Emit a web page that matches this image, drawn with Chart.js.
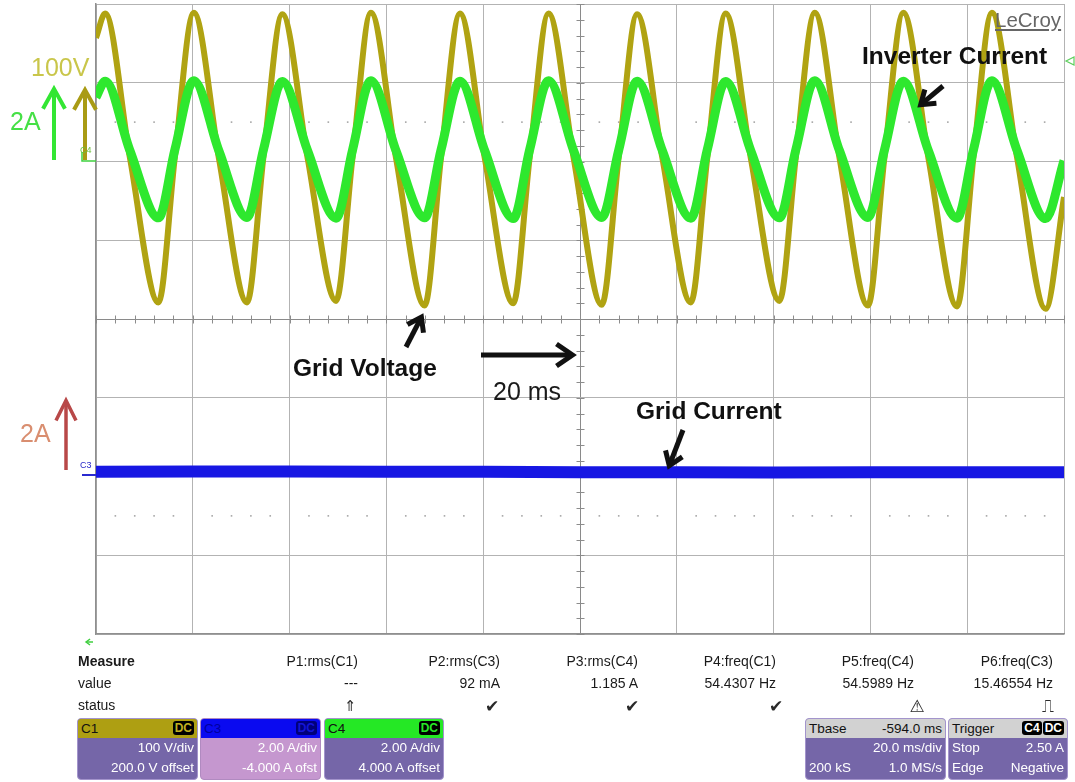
<!DOCTYPE html>
<html>
<head>
<meta charset="utf-8">
<title>Grid-tied inverter waveforms</title>
<script src="https://cdn.jsdelivr.net/npm/chart.js@4.4.1/dist/chart.umd.min.js"></script>
<style>
  html, body { margin:0; padding:0; background:#fff; }
  #scope { position:relative; width:1075px; height:782px; overflow:hidden;
           font-family:"Liberation Sans", Arial, sans-serif; }
  #scope canvas { position:absolute; left:0; top:0; }
  .lbl { position:absolute; white-space:nowrap; line-height:1; }
  .box { position:absolute; top:718px; height:62px; box-sizing:border-box;
         border:1px solid #a394cc; border-radius:4px; overflow:hidden;
         background:#7566a8; color:#fff; font-size:13.5px; }
  .box .hd { position:relative; height:19px; line-height:19px; padding:0 3px; color:#111; }
  .box .hd .r { position:absolute; right:3px; top:0; }
  .badge { display:inline-block; height:14px; line-height:14px; margin-top:2px; margin-left:1px;
           padding:0 2px; border-radius:3px; background:#000; font-weight:bold; font-size:12px; vertical-align:top; }
  .box .row { height:20px; line-height:20px; padding:0 3px; display:flex; justify-content:space-between; }
</style>
</head>
<body>
<div id="scope">
  <canvas id="chart" width="1075" height="782"></canvas>
  <div id="labels"></div>

  <div class="box" style="left:77px;width:121px;">
    <div class="hd" style="background:#ae9f12;">C1<span class="r"><span class="badge" style="color:#c0b020;">DC</span></span></div>
    <div class="row"><span></span><span>100 V/div</span></div>
    <div class="row"><span></span><span>200.0 V offset</span></div>
  </div>
  <div class="box" style="left:200px;width:121px;background:#c597cf;border-color:#b08ac0;">
    <div class="hd" style="background:#0a0af0;color:#0000a0;">C3<span class="r"><span class="badge" style="background:#00007a;color:#1414d8;">DC</span></span></div>
    <div class="row"><span></span><span>2.00 A/div</span></div>
    <div class="row"><span></span><span>-4.000 A ofst</span></div>
  </div>
  <div class="box" style="left:324px;width:120px;">
    <div class="hd" style="background:#25e825;">C4<span class="r"><span class="badge" style="color:#25e825;">DC</span></span></div>
    <div class="row"><span></span><span>2.00 A/div</span></div>
    <div class="row"><span></span><span>4.000 A offset</span></div>
  </div>
  <div class="box" style="left:805px;width:141px;">
    <div class="hd" style="background:#d2d2d2;">Tbase<span class="r">-594.0 ms</span></div>
    <div class="row"><span></span><span>20.0 ms/div</span></div>
    <div class="row"><span>200 kS</span><span>1.0 MS/s</span></div>
  </div>
  <div class="box" style="left:948px;width:120px;">
    <div class="hd" style="background:#d2d2d2;">Trigger<span class="r"><span class="badge" style="color:#fff;">C4</span><span class="badge" style="color:#fff;">DC</span></span></div>
    <div class="row"><span>Stop</span><span>2.50 A</span></div>
    <div class="row"><span>Edge</span><span>Negative</span></div>
  </div>
</div>

<script>
// Sample instants (ms, 20 ms/div, 0 = screen centre): start, then per cycle peak / falling mid / trough / rising mid
const timeMs = [
  -100.0,
  -98.1, -93.0, -87.1, -83.7,
  -79.8, -74.6, -68.8, -65.4,
  -61.5, -56.3, -50.4, -47.0,
  -43.2, -38.0, -32.1, -28.7,
  -24.8, -19.7, -13.8, -10.4,
  -6.5,  -1.3,   4.5,   8.0,
  11.8,  17.0,  22.9,  26.3,
  30.1,  35.3,  41.2,  44.6,
  48.5,  53.6,  59.5,  62.9,
  66.8,  72.0,  77.9,  81.3,
  85.1,  90.3,  96.2, 100.0
];

// C1 grid voltage (V)
const gridVoltage = [
  157,
  188, 5, -179, 6,
  189, 4, -179, 6,
  187, 5, -177, 5,
  189, 4, -183, 6,
  188, 5, -180, 5,
  188, 4, -182, 6,
  187, 5, -179, 5,
  188, 4, -177, 6,
  189, 5, -183, 5,
  189, 4, -184, 6,
  189, 5, -187, -45
];

// C4 inverter current (A)
const inverterCurrent = [
  1.63,
  2.04, 0.28, -1.43, 0.30,
  2.05, 0.27, -1.42, 0.30,
  2.03, 0.28, -1.44, 0.29,
  2.05, 0.27, -1.43, 0.30,
  2.04, 0.28, -1.45, 0.30,
  2.05, 0.27, -1.42, 0.29,
  2.04, 0.28, -1.44, 0.30,
  2.03, 0.27, -1.43, 0.30,
  2.05, 0.28, -1.42, 0.29,
  2.04, 0.27, -1.44, 0.30,
  2.05, 0.28, -1.45, 0.02
];

// C3 grid current (A)
const gridCurrentTime = [-100, -80, -60, -40, -20, 0, 20, 40, 60, 80, 100];
const gridCurrent     = [0.06, 0.07, 0.07, 0.06, 0.06, 0.05, 0.05, 0.04, 0.05, 0.05, 0.05];

// Measurement panel
const measureNames  = ['P1:rms(C1)', 'P2:rms(C3)', 'P3:rms(C4)', 'P4:freq(C1)', 'P5:freq(C4)', 'P6:freq(C3)'];
const measureValues = ['---', '92 mA', '1.185 A', '54.4307 Hz', '54.5989 Hz', '15.46554 Hz'];
const measureStatus = ['\u21D1', '\u2714', '\u2714', '\u2714', '\u26A0', '\u238D'];

const toXY = (ts, vs) => ts.map((t, i) => ({ x: t, y: vs[i] }));

// ---- overlay text ----
const W = 1075;
const colRight = [358, 500, 638, 776, 914, 1053];
const statusX  = [350, 492, 632, 776, 917, 1048];
const labels = [
  { text: 'LeCroy', x: 995, base: 27, size: 20.5, color: '#666', deco: 'underline' },
  { text: 'Inverter Current', x: 862, base: 65, size: 24.5, color: '#111', bold: true },
  { text: 'Grid Voltage', x: 293, base: 377, size: 24.5, color: '#111', bold: true },
  { text: '20 ms', x: 493, base: 400, size: 25, color: '#1a1a1a' },
  { text: 'Grid Current', x: 636, base: 420, size: 24.5, color: '#111', bold: true },
  { text: '100V', x: 31, base: 76, size: 25, color: '#c9c64a' },
  { text: '2A', x: 10, base: 130, size: 25, color: '#45e045' },
  { text: '2A', x: 20, base: 442, size: 25, color: '#d98e70' },
  { text: 'C4', x: 80, base: 154, size: 9, color: '#6cbf3c' },
  { text: 'C3', x: 80, base: 469, size: 9, color: '#2828c8' },
  { text: 'Measure', x: 78, base: 666, size: 14, color: '#1a1a1a', bold: true },
  { text: 'value', x: 78, base: 688, size: 14, color: '#1a1a1a' },
  { text: 'status', x: 78, base: 710, size: 14, color: '#1a1a1a' }
];
measureNames.forEach((n, i) => labels.push({ text: n, x: colRight[i], base: 666, size: 14, color: '#1a1a1a', right: true }));
measureValues.forEach((n, i) => labels.push({ text: n, x: colRight[i], base: 688, size: 14, color: '#1a1a1a', right: true }));
measureStatus.forEach((n, i) => labels.push({ text: n, x: statusX[i], base: 712, size: i === 0 ? 15 : 17, color: '#2a2a2a',
  center: true, font: '"DejaVu Sans", sans-serif' }));

const host = document.getElementById('labels');
labels.forEach(s => {
  const d = document.createElement('div');
  d.className = 'lbl';
  d.textContent = s.text;
  d.style.fontSize = s.size + 'px';
  d.style.color = s.color;
  d.style.top = (s.base - 0.847 * s.size) + 'px';
  if (s.bold) d.style.fontWeight = 'bold';
  if (s.deco) d.style.textDecoration = s.deco;
  if (s.font) d.style.fontFamily = s.font;
  if (s.right) d.style.right = (W - s.x) + 'px';
  else if (s.center) { d.style.left = s.x + 'px'; d.style.transform = 'translateX(-50%)'; }
  else d.style.left = s.x + 'px';
  host.appendChild(d);
});

// ---- scope decorations ----
function arrow(ctx, x1, y1, x2, y2, color, w, len, half) {
  const a = Math.atan2(y2 - y1, x2 - x1);
  const c = Math.cos(a), s = Math.sin(a);
  ctx.strokeStyle = color;
  ctx.lineWidth = w;
  ctx.lineCap = 'butt';
  ctx.lineJoin = 'miter';
  ctx.beginPath();
  ctx.moveTo(x1, y1);
  ctx.lineTo(x2 - c * w * 0.8, y2 - s * w * 0.8);
  ctx.stroke();
  const tx = x2 - c * w * 0.7, ty = y2 - s * w * 0.7;
  const bx = tx - c * len, by = ty - s * len;
  const nx = -s * half, ny = c * half;
  ctx.beginPath();
  ctx.moveTo(bx + nx, by + ny);
  ctx.lineTo(tx, ty);
  ctx.lineTo(bx - nx, by - ny);
  ctx.stroke();
}

const scopeDecor = {
  id: 'scopeDecor',
  beforeDatasetsDraw(chart) {
    const { ctx, scales: { x, yV } } = chart;
    ctx.save();
    const cy = Math.round(yV.getPixelForValue(-200)) + 0.5;
    const cx = Math.round(x.getPixelForValue(0)) + 0.5;
    ctx.strokeStyle = '#8c8c8c';
    ctx.lineWidth = 1;
    ctx.beginPath();
    for (let t = -100; t <= 100; t += 4) {
      const px = Math.round(x.getPixelForValue(t)) + 0.5;
      ctx.moveTo(px, cy - 4); ctx.lineTo(px, cy + 4);
    }
    for (let v = -600; v <= 200; v += 20) {
      const py = Math.round(yV.getPixelForValue(v)) + 0.5;
      ctx.moveTo(cx - 4, py); ctx.lineTo(cx + 4, py);
    }
    ctx.stroke();
    ctx.fillStyle = '#a6a6a6';
    [50, -450].forEach(v => {
      const py = yV.getPixelForValue(v);
      for (let t = -100; t < 100; t += 4) {
        if (t % 20 === 0) continue;
        const px = x.getPixelForValue(t);
        ctx.fillRect(px - 0.8, py - 0.8, 1.6, 1.6);
      }
    });
    ctx.restore();
  },
  afterDraw(chart) {
    const ctx = chart.ctx;
    ctx.save();
    // channel scale arrows at the left edge
    arrow(ctx, 54, 160, 54, 86, '#33e633', 4, 20, 11);
    arrow(ctx, 85, 160, 85, 87, '#a99b14', 4, 20, 11);
    arrow(ctx, 66, 470, 66, 398, '#b84848', 3.5, 20, 10);
    // trace ground markers
    ctx.lineWidth = 1.5;
    ctx.strokeStyle = '#3fd13f';
    ctx.beginPath(); ctx.moveTo(82, 152); ctx.lineTo(82, 161); ctx.lineTo(96, 161); ctx.stroke();
    ctx.strokeStyle = '#2a2ad0';
    ctx.lineWidth = 2;
    ctx.beginPath(); ctx.moveTo(82, 475); ctx.lineTo(96, 475); ctx.stroke();
    // trigger level marker on the right
    ctx.strokeStyle = '#5ccf5c';
    ctx.lineWidth = 1.2;
    ctx.beginPath(); ctx.moveTo(1066, 61); ctx.lineTo(1074, 57); ctx.lineTo(1074, 65); ctx.closePath(); ctx.stroke();
    // small arrow below the grid
    arrow(ctx, 93, 642, 85, 642, '#3fcf3f', 1.5, 4, 3);
    // annotation arrows
    arrow(ctx, 943, 86, 918, 107, '#111', 5, 13, 9);
    arrow(ctx, 406, 347, 423, 314, '#111', 5, 13, 9);
    arrow(ctx, 481, 355, 576, 355, '#111', 5, 16, 11);
    arrow(ctx, 683, 430, 668, 469, '#111', 5, 13, 9);
    ctx.restore();
  }
};

const gridColor = (centre) => (c) => (c.tick && c.tick.value === centre ? '#8a8a8a' : '#b3b3b3');

new Chart(document.getElementById('chart'), {
  type: 'line',
  data: {
    datasets: [
      { label: 'Inverter Current', data: toXY(timeMs, inverterCurrent), yAxisID: 'yI',
        borderColor: '#2ee82e', borderWidth: 9, cubicInterpolationMode: 'monotone', order: 0 },
      { label: 'Grid Voltage', data: toXY(timeMs, gridVoltage), yAxisID: 'yV',
        borderColor: '#b0a312', borderWidth: 6, cubicInterpolationMode: 'monotone', order: 1 },
      { label: 'Grid Current', data: toXY(gridCurrentTime, gridCurrent), yAxisID: 'yG',
        borderColor: '#1717e3', borderWidth: 12, tension: 0, order: 2 }
    ]
  },
  options: {
    responsive: false,
    devicePixelRatio: 1,
    animation: false,
    events: [],
    layout: { padding: { left: 96, top: 4, right: 11, bottom: 148 } },
    elements: { point: { radius: 0 }, line: { borderCapStyle: 'butt' } },
    plugins: { legend: { display: false }, tooltip: { enabled: false } },
    scales: {
      x: { type: 'linear', min: -100, max: 100,
           ticks: { display: false, stepSize: 20 },
           grid: { color: gridColor(0), lineWidth: 1, drawTicks: false },
           border: { display: true, color: '#8f8f8f', width: 1.5 } },
      yV: { type: 'linear', position: 'left', min: -600, max: 200,
            ticks: { display: false, stepSize: 100 },
            grid: { color: gridColor(-200), lineWidth: 1, drawTicks: false },
            border: { display: true, color: '#8f8f8f', width: 1.5 } },
      yI: { type: 'linear', display: false, min: -12, max: 4 },
      yG: { type: 'linear', display: false, min: -4.06, max: 11.94 }
    }
  },
  plugins: [scopeDecor]
});
</script>
</body>
</html>
